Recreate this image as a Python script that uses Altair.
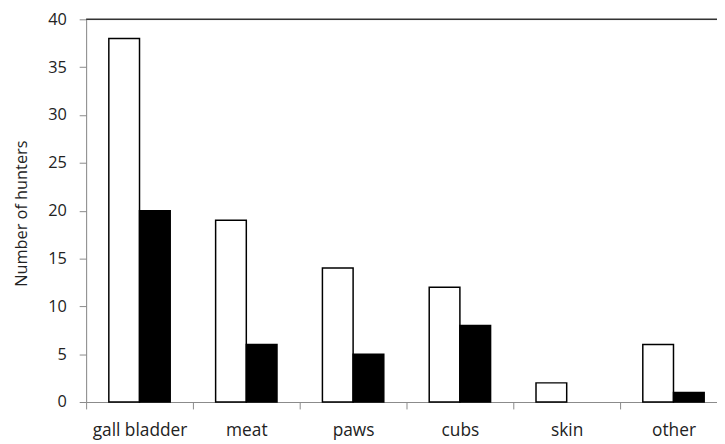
import altair as alt
import pandas as pd

categories = ["gall bladder", "meat", "paws", "cubs", "skin", "other"]
series_names = ["series 1", "series 2"]
white_values = [38, 19, 14, 12, 2, 6]
black_values = [20, 6, 5, 8, 0, 1]
y_ticks = [0, 5, 10, 15, 20, 25, 30, 35, 40]

rows = []
for c, w, b in zip(categories, white_values, black_values):
    rows.append({"category": c, "series": series_names[0], "value": w})
    rows.append({"category": c, "series": series_names[1], "value": b})
df = pd.DataFrame(rows)

font = "Open Sans"
gray = "#8a8a8a"

bars = alt.Chart(df).mark_bar(stroke="black", strokeWidth=1.5).encode(
    x=alt.X("category:N", sort=categories,
            scale=alt.Scale(range=[0, 648], paddingInner=0, paddingOuter=0),
            axis=alt.Axis(title=None, labelAngle=0, tickBand="extent",
                          domainColor=gray, tickColor=gray, tickSize=7,
                          labelFontSize=17.5, labelFont=font, labelColor="#222",
                          labelPadding=13)),
    xOffset=alt.XOffset("series:N", sort=series_names,
                        scale=alt.Scale(paddingOuter=0.74, paddingInner=0)),
    y=alt.Y("value:Q", scale=alt.Scale(domain=[0, 40], nice=False),
            axis=alt.Axis(values=y_ticks, title="Number of hunters", grid=False,
                          domainColor=gray, tickColor=gray, tickSize=7,
                          labelFontSize=16.5, labelFont=font, labelColor="#222",
                          labelPadding=13,
                          titleFont=font, titleFontSize=16.5, titleFontWeight="normal",
                          titleColor="#222", titleAngle=270, titleX=-65, titleY=196,
                          titleAlign="center", titleBaseline="middle")),
    color=alt.Color("series:N", sort=series_names,
                    scale=alt.Scale(domain=series_names, range=["white", "black"]),
                    legend=None),
    strokeOpacity=alt.condition(alt.datum.value > 0, alt.value(1), alt.value(0)),
)

top = alt.Chart(pd.DataFrame({"y": [40]})).mark_rule(color="#333", strokeWidth=1.5).encode(
    y=alt.Y("y:Q", scale=alt.Scale(domain=[0, 40], nice=False))
)

chart = alt.layer(bars, top).properties(
    width=638, height=387,
    autosize=alt.AutoSizeParams(type="none"),
    padding={"left": 79, "top": 9, "right": 0, "bottom": 40},
).configure_view(stroke=None).configure(background="white")

chart.save("out.html", embed_options={"renderer": "svg", "actions": False})
